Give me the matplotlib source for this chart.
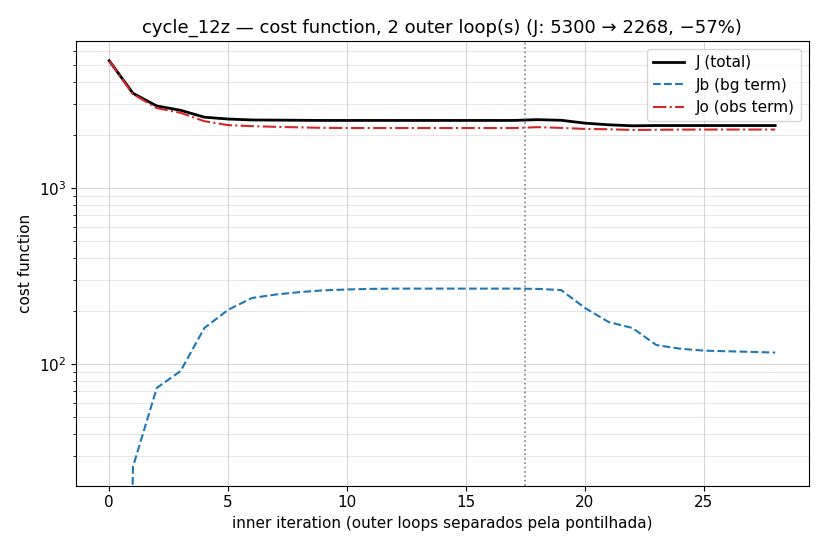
import numpy as np
import matplotlib.pyplot as plt

plt.rcParams['font.size'] = 11

iters = np.arange(29)
J_total = [5300, 3460, 2930, 2770, 2530, 2470, 2440, 2435, 2430, 2425, 2425, 2425, 2425, 2425, 2425, 2425, 2425, 2425,
           2450, 2430, 2340, 2290, 2260, 2268, 2268, 2268, 2268, 2268, 2268]
Jb = [1e-6, 26, 73, 91, 160, 203, 237, 248, 256, 262, 265, 267, 268, 268, 268, 268, 268, 268,
      267, 263, 208, 173, 160, 128, 122, 119, 118, 117, 116]
Jo = [5290, 3420, 2850, 2680, 2400, 2280, 2250, 2230, 2215, 2200, 2195, 2195, 2195, 2195, 2195, 2195, 2195, 2195,
      2220, 2200, 2170, 2160, 2140, 2145, 2150, 2152, 2152, 2152, 2152]
outer_break = 17.5

fig, ax = plt.subplots(figsize=(8.25, 5.5), dpi=100)
ax.plot(iters, J_total, color='black', linewidth=2, label='J (total)')
ax.plot(iters, Jb, color='#1f77b4', linestyle='--', linewidth=1.5, label='Jb (bg term)')
ax.plot(iters, Jo, color='#d62728', linestyle='-.', linewidth=1.5, label='Jo (obs term)')
ax.axvline(outer_break, color='gray', linestyle=':', linewidth=1.2)
ax.set_yscale('log')
ax.set_ylim(20.3, 6840)
ax.set_xlim(-1.4, 29.4)
ax.grid(True, which='major', alpha=0.5)
ax.grid(True, which='minor', alpha=0.3)
ax.set_xlabel('inner iteration (outer loops separados pela pontilhada)')
ax.set_ylabel('cost function')
ax.set_title('cycle_12z — cost function, 2 outer loop(s) (J: 5300 → 2268, −57%)', fontsize=13)
ax.legend(loc='upper right')
fig.subplots_adjust(left=0.092, right=0.98, top=0.925, bottom=0.117)
fig.savefig('out.png')
